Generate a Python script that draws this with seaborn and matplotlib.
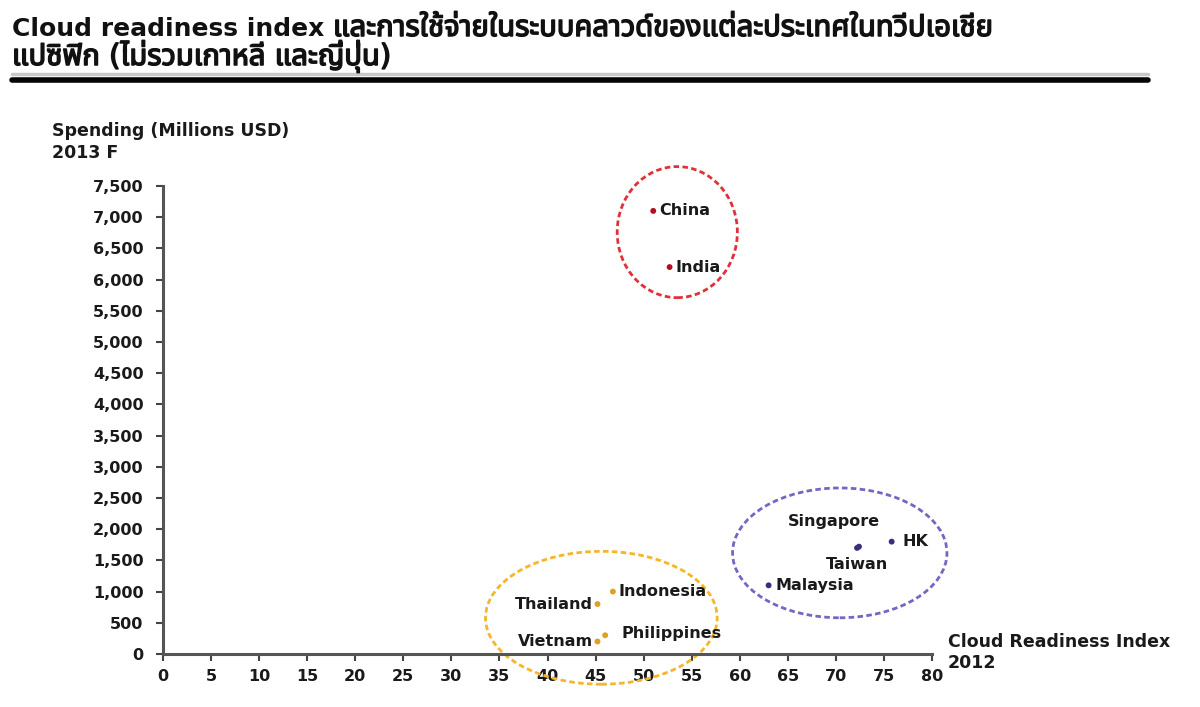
import matplotlib
matplotlib.use("Agg")
import matplotlib.pyplot as plt
from matplotlib.patches import Ellipse
from matplotlib.lines import Line2D
import matplotlib.patheffects as pe
import seaborn as sns
import pandas as pd

# ---------------- data ----------------
countries = ["China", "India", "Thailand", "Indonesia", "Vietnam", "Philippines",
             "Singapore", "Taiwan", "HK", "Malaysia"]
readiness = [51.0, 52.7, 45.2, 46.8, 45.2, 46.0, 72.4, 72.2, 75.8, 63.0]
spending = [7100, 6200, 800, 1000, 200, 300, 1720, 1700, 1800, 1100]
groups = ["big", "big", "emerging", "emerging", "emerging", "emerging",
          "advanced", "advanced", "advanced", "advanced"]

x_ticks = list(range(0, 85, 5))
y_ticks = list(range(0, 8000, 500))

title_en = "Cloud readiness index "
title_th1 = "และการใช้จ่ายในระบบคลาวด์ของแต่ละประเทศในทวีปเอเชีย"
title_th2 = "แปซิฟิก (ไม่รวมเกาหลี และญี่ปุ่น)"
y_label = "Spending (Millions USD)\n2013 F"
x_label = "Cloud Readiness Index\n2012"

# ---------------- style ----------------
point_colors = {"big": "#B01020", "emerging": "#E0A020", "advanced": "#3C2C80"}
ring_colors = {"big": "#E0303A", "emerging": "#F6B52A", "advanced": "#7565C5"}
# ellipse centre (x, y), width, height in data units
rings = {"big": (53.5, 6760, 12.5, 2100),
         "emerging": (45.6, 580, 24.1, 2130),
         "advanced": (70.4, 1620, 22.3, 2080)}
# label offsets in points and alignment
label_pos = {
    "China": (4, 0, "left"), "India": (4, 0, "left"),
    "Thailand": (-3, 0, "right"), "Indonesia": (4, 0, "left"),
    "Vietnam": (-3, 0, "right"), "Philippines": (12, 1, "left"),
    "Singapore": (-18, 18, "center"), "Taiwan": (0, -12, "center"),
    "HK": (8, 0, "left"), "Malaysia": (5, 0, "left"),
}

sns.set_theme(style="white")
thai_fams = ["DejaVu Sans", "Noto Sans Thai", "Noto Sans Thai Looped", "Noto Sans",
             "Loma", "Garuda", "Tlwg Typo"]
plt.rcParams["font.family"] = thai_fams
txt_color = "#1a1a1a"

df = pd.DataFrame({"country": countries, "x": readiness, "y": spending, "group": groups})

fig = plt.figure(figsize=(12, 7.07), dpi=100)
ax = fig.add_axes([0.1358, 0.075, 0.6409, 0.662])

sns.scatterplot(data=df, x="x", y="y", hue="group", palette=point_colors,
                s=18, edgecolor="none", legend=False, ax=ax, zorder=3)

for g, (cx, cy, w, h) in rings.items():
    ax.add_patch(Ellipse((cx, cy), w, h, fill=False, edgecolor=ring_colors[g],
                         linestyle=(0, (2.0, 1.2)), linewidth=2.0, clip_on=False, zorder=2))

for c, xv, yv in zip(countries, readiness, spending):
    dx, dy, ha = label_pos[c]
    ax.annotate(c, (xv, yv), xytext=(dx, dy), textcoords="offset points",
                ha=ha, va="center", fontsize=11.5, fontweight="bold", color=txt_color,
                zorder=4)

ax.set_xlim(0, 80)
ax.set_ylim(0, 7500)
ax.set_xticks(x_ticks)
ax.set_yticks(y_ticks)
ax.set_yticklabels([f"{v:,}" for v in y_ticks])
ax.tick_params(axis="both", which="both", length=5, width=1.5, color="#444444",
               labelsize=11.5, labelcolor=txt_color, direction="out", left=True, bottom=True)
for lab in ax.get_xticklabels() + ax.get_yticklabels():
    lab.set_fontweight("bold")
ax.tick_params(axis="y", pad=9)
ax.tick_params(axis="x", pad=6)
ax.set_xlabel("")
ax.set_ylabel("")

for side in ["top", "right"]:
    ax.spines[side].set_visible(False)
for side in ["left", "bottom"]:
    ax.spines[side].set_color("#555555")
    ax.spines[side].set_linewidth(2.2)

fig.text(52 / 1200, 1 - 122 / 707, y_label, ha="left", va="top", fontsize=12.5,
         fontweight="bold", color=txt_color, linespacing=1.25)
fig.text(948 / 1200, 1 - 633 / 707, x_label, ha="left", va="top", fontsize=12.5,
         fontweight="bold", color=txt_color, linespacing=1.2)

# title: English part bold, Thai part emboldened with a thin stroke
bold_fx = [pe.withStroke(linewidth=1.1, foreground="#111111")]
t_en = fig.text(12 / 1200, 1 - 36 / 707, title_en, ha="left", va="baseline",
                fontsize=18, fontweight="bold", color="#111111")
fig.canvas.draw()
bb = t_en.get_window_extent(renderer=fig.canvas.get_renderer())
fig.text(bb.x1 / 1200, 1 - 36 / 707, title_th1, ha="left", va="baseline",
         fontsize=21, color="#111111", path_effects=bold_fx)
fig.text(12 / 1200, 1 - 65 / 707, title_th2, ha="left", va="baseline",
         fontsize=21, color="#111111", path_effects=bold_fx)

fig.add_artist(Line2D([12 / 1200, 1148 / 1200], [1 - 74 / 707] * 2,
                      transform=fig.transFigure, color="#c8c8c8", linewidth=2.5))
fig.add_artist(Line2D([12 / 1200, 1148 / 1200], [1 - 79.5 / 707] * 2,
                      transform=fig.transFigure, color="#050505", linewidth=4.0))

fig.savefig("out.png", dpi=100, facecolor="white")
